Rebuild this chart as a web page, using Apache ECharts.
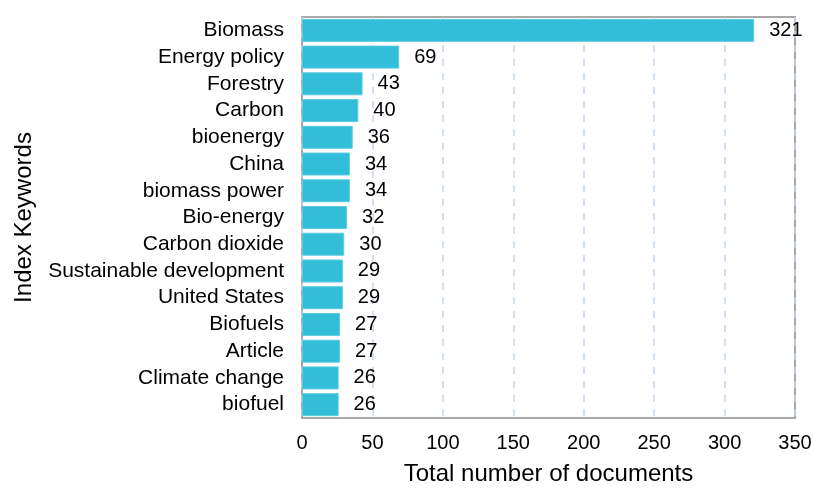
<!DOCTYPE html>
<html>
<head>
<meta charset="utf-8">
<script src="https://cdn.jsdelivr.net/npm/echarts@6/dist/echarts.min.js"></script>
<style>
  html, body { margin: 0; padding: 0; background: #fff; }
  #chart { width: 813px; height: 488px; }
</style>
</head>
<body>
<div id="chart"></div>
<script>
// Keywords listed top to bottom
const keywords = [
  'Biomass', 'Energy policy', 'Forestry', 'Carbon', 'bioenergy', 'China',
  'biomass power', 'Bio-energy', 'Carbon dioxide', 'Sustainable development',
  'United States', 'Biofuels', 'Article', 'Climate change', 'biofuel'
];
const documentCounts = [321, 69, 43, 40, 36, 34, 34, 32, 30, 29, 29, 27, 27, 26, 26];
const xTicks = [0, 50, 100, 150, 200, 250, 300, 350];

const chart = echarts.init(document.getElementById('chart'));
const font = 'Liberation Sans, Arial, sans-serif';

chart.setOption({
  animation: false,
  grid: {
    left: 302, right: 18, top: 17, bottom: 70,
    outerBoundsMode: 'none',
    containLabel: false,
    show: true, borderColor: '#a8a8a8', borderWidth: 2, backgroundColor: '#fff'
  },
  xAxis: {
    type: 'value',
    min: xTicks[0], max: xTicks[xTicks.length - 1], interval: 50,
    name: 'Total number of documents',
    nameLocation: 'middle', nameGap: 44,
    nameTextStyle: { fontFamily: font, fontSize: 24, color: '#000' },
    axisLine: { show: false },
    axisTick: { show: false },
    axisLabel: { fontFamily: font, fontSize: 20, color: '#000', margin: 15 },
    splitLine: {
      show: true,
      lineStyle: { color: '#c4d4f0', type: [7, 7], width: 1.5 }
    }
  },
  yAxis: {
    type: 'category',
    data: keywords,
    inverse: true,
    name: 'Index Keywords',
    nameLocation: 'middle', nameGap: 266, nameRotate: 90,
    nameTextStyle: { fontFamily: font, fontSize: 24, color: '#000' },
    axisLine: { show: false },
    axisTick: { show: false },
    axisLabel: { interval: 0, fontFamily: font, fontSize: 21, color: '#000', margin: 18 },
    splitLine: { show: false }
  },
  series: [{
    type: 'bar',
    data: documentCounts,
    barCategoryGap: '14%',
    itemStyle: { color: '#32bed9', borderColor: '#5ccbe2', borderWidth: 1 },
    label: {
      show: true, position: 'right', distance: 15,
      fontFamily: font, fontSize: 20, color: '#000'
    }
  }]
});
</script>
</body>
</html>
